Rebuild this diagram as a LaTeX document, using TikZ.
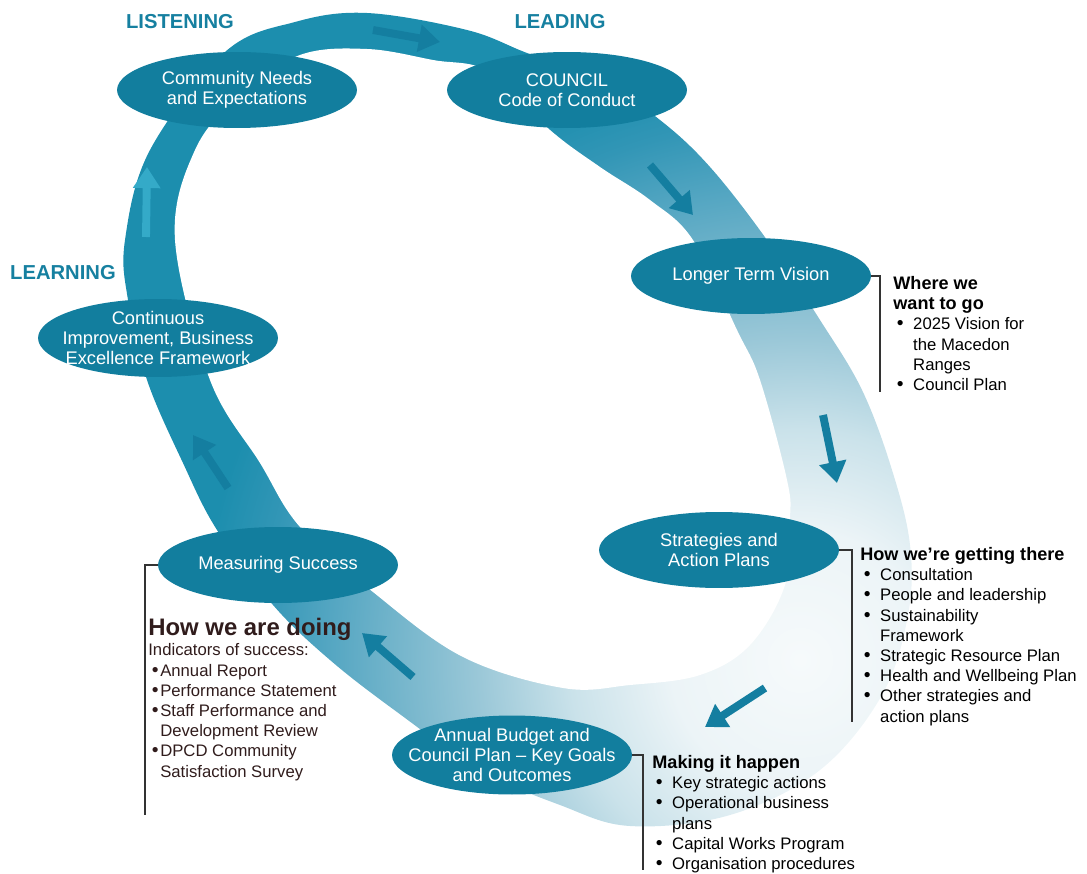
\documentclass[tikz,border=0pt]{standalone}
\usepackage{fontspec}
\setmainfont{Liberation Sans}
\usetikzlibrary{shapes.geometric,arrows.meta,positioning,calc}
\definecolor{ringteal}{RGB}{28,142,174}
\definecolor{stageteal}{RGB}{18,126,158}
\definecolor{arrowteal}{RGB}{20,126,160}
\definecolor{arrowlight}{RGB}{52,170,200}
\definecolor{phaseteal}{RGB}{22,128,160}
\definecolor{infobrown}{RGB}{48,28,28}
\definecolor{fadeA}{RGB}{246,250,251}
\definecolor{fadeB}{RGB}{236,244,247}
\definecolor{fadeC}{RGB}{202,226,234}
\definecolor{fadeD}{RGB}{155,200,216}
\definecolor{fadeE}{RGB}{118,182,204}
\definecolor{fadeF}{RGB}{84,166,194}
\definecolor{fadeG}{RGB}{50,150,182}
\pgfdeclareradialshading{ringfade}{\pgfpoint{0bp}{0bp}}{color(0bp)=(fadeA); color(3.6bp)=(fadeB); color(6.4bp)=(fadeC); color(8.9bp)=(fadeD); color(11.1bp)=(fadeE); color(13.1bp)=(fadeF); color(15bp)=(fadeG); color(16.7bp)=(ringteal); color(50bp)=(ringteal)}
\newcommand{\infohead}[1]{{\fontsize{10.3}{11.9}\selectfont\bfseries #1}}
\newcommand{\bitem}[2][11.3pt]{\makebox[#1][l]{\hspace{2pt}{\fontsize{11}{11}\selectfont\textbullet}}#2}
\newcommand{\bcont}[2][11.3pt]{\hspace*{#1}#2}

\begin{document}
\begin{tikzpicture}[
    x=0.02cm, y=-0.02cm,
    stage/.style={ellipse, fill=stageteal, minimum width=4.8cm, minimum height=1.52cm, inner sep=0pt},
    stagetext/.style={text=white, align=center, font=\fontsize{10.4}{11.3}\selectfont, inner sep=0pt},
    phaselabel/.style={text=phaseteal, font=\fontsize{11.5}{13}\selectfont\bfseries, inner sep=0pt},
    info/.style={anchor=north west, inner sep=0pt, align=left, font=\fontsize{9.5}{11.5}\selectfont},
    bracket/.style={draw=black!80, line width=0.6pt},
    flowarrow/.style={-{Triangle[width=15pt,length=12pt]}, line width=4.5pt, draw=arrowteal}
]
\useasboundingbox (0,0) rectangle (1087,874);

% Ring band
\begin{scope}
\clip plot[smooth cycle, tension=0.6] coordinates {(125,240) (150,150) (225,52) (295,22) (367,13) (467,30) (527,53) (600,80) (660,120) (710,167) (767,240) (820,320) (862,390) (892,470) (910,545) (908,615) (882,695) (820,770) (730,815) (630,826) (560,805) (480,770) (397,712) (330,660) (273,605) (217,530) (183,463) (147,380) (128,300)};
\shade[shading=ringfade] (800,660) circle (900);
\end{scope}
\fill[white] plot[smooth cycle, tension=0.6] coordinates {(175,240) (195,150) (240,95) (300,55) (367,49) (433,60) (490,72) (550,130) (600,167) (650,200) (693,240) (737,330) (760,380) (787,480) (790,520) (785,585) (750,645) (700,675) (630,685) (563,688) (463,657) (373,592) (300,527) (260,463) (210,380)};

% Flow arrows on the band
\coordinate (f1a) at (373,30);  \coordinate (f1b) at (440,42);
\coordinate (f2a) at (650,165); \coordinate (f2b) at (693,215);
\coordinate (f3a) at (823,415); \coordinate (f3b) at (837,483);
\coordinate (f4a) at (765,688); \coordinate (f4b) at (705,727);
\coordinate (f5a) at (413,677); \coordinate (f5b) at (362,633);
\coordinate (f6a) at (228,488); \coordinate (f6b) at (193,435);
\coordinate (f7a) at (146,237); \coordinate (f7b) at (147,167);
\foreach \s in {1,...,6}
  \draw[flowarrow] (f\s a) -- (f\s b);
\draw[flowarrow, draw=arrowlight] (f7a) -- (f7b);

% Stages
\node[stage] (comm) at (237,90) {};
\node[stage] (council) at (567,90) {};
\node[stage] (ltv) at (751,276) {};
\node[stage] (strat) at (719,550) {};
\node[stage, minimum height=1.58cm] (annual) at (512,755) {};
\node[stage] (meas) at (278,565) {};
\node[stage, minimum height=1.56cm] (cont) at (158,338) {};

\node[stagetext] (comm-t) at (comm) {Community Needs\\and Expectations};
\node[stagetext] (council-t) at (council) {COUNCIL\\Code of Conduct};
\node[stagetext] (ltv-t) at (ltv) {Longer Term Vision};
\node[stagetext] (strat-t) at (strat) {Strategies and\\Action Plans};
\node[stagetext] (annual-t) at (annual) {Annual Budget and\\Council Plan – Key Goals\\and Outcomes};
\node[stagetext] (meas-t) at (meas) {Measuring Success};
\node[stagetext] (cont-t) at (cont) {Continuous\\Improvement, Business\\Excellence Framework};

% Phase labels
\node[phaselabel] (listening) at (180,22) {LISTENING};
\node[phaselabel] (leading) at (560,22) {LEADING};
\node[phaselabel] (learning) at (63,273) {LEARNING};

% Brackets
\coordinate (ltvbar) at (880,392);
\coordinate (stratbar) at (852,722);
\coordinate (annualbar) at (643,870);
\coordinate (measbar) at (145,815);
\draw[bracket] (ltv.east) -| (ltvbar);
\draw[bracket] (strat.east) -| (stratbar);
\draw[bracket] (annual.east) -| (annualbar);
\draw[bracket] (meas.west) -| (measbar);

% Info blocks
\node[info] (ltvinfo) at (893,276) {\infohead{Where we}\\ \infohead{want to go}\\ \bitem{2025 Vision for}\\ \bcont{the Macedon}\\ \bcont{Ranges}\\ \bitem{Council Plan}};
\node[info] (stratinfo) at (860,547) {\infohead{How we’re getting there}\\ \bitem{Consultation}\\ \bitem{People and leadership}\\ \bitem{Sustainability}\\ \bcont{Framework}\\ \bitem{Strategic Resource Plan}\\ \bitem{Health and Wellbeing Plan}\\ \bitem{Other strategies and}\\ \bcont{action plans}};
\node[info] (annualinfo) at (652,755) {\infohead{Making it happen}\\ \bitem{Key strategic actions}\\ \bitem{Operational business}\\ \bcont{plans}\\ \bitem{Capital Works Program}\\ \bitem{Organisation procedures}};
\node[info, text=infobrown] (measinfo) at (148,618) {{\fontsize{13.6}{14}\selectfont\bfseries How we are doing}\\ Indicators of success:\\ \bitem[6.8pt]{Annual Report}\\ \bitem[6.8pt]{Performance Statement}\\ \bitem[6.8pt]{Staff Performance and}\\ \bcont[6.8pt]{Development Review}\\ \bitem[6.8pt]{DPCD Community}\\ \bcont[6.8pt]{Satisfaction Survey}};

\end{tikzpicture}
\end{document}
